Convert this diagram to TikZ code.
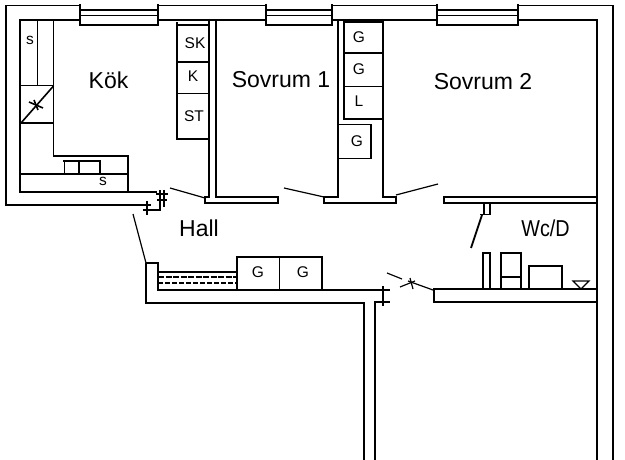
\documentclass[tikz,border=0pt]{standalone}
\usepackage{fontspec}
\setmainfont{Liberation Sans}
\tikzset{
  wall/.style={line width=1.9pt},
  fitting/.style={line width=1.6pt},
  thin wall/.style={line width=1.2pt},
  door/.style={line width=1.2pt},
  room/.style={inner sep=0pt, font=\fontsize{23}{26}\selectfont},
  unit/.style={inner sep=0pt, font=\fontsize{15.5}{18}\selectfont},
}
\begin{document}
\begin{tikzpicture}[x=1pt,y=-1pt]
\useasboundingbox (0,0) rectangle (625,460);
\draw[wall] (80,5.5) -- (6,5.5) -- (6,205) -- (147,205);
\draw[wall] (80,20) -- (20,20) -- (20,192) -- (157,192);
\draw[wall] (158,5.5) -- (266,5.5);
\draw[wall] (158,20) -- (266,20);
\draw[wall] (332,5.5) -- (437,5.5);
\draw[wall] (332,20) -- (437,20);
\draw[wall] (518,5.5) -- (613,5.5) -- (613,460);
\draw[wall] (518,20) -- (597,20) -- (597,460);
\foreach \xa/\xb in {80/158, 266/332, 437/518} {
  \draw[thin wall] (\xa,10) -- (\xb,10);
  \draw[thin wall] (\xa,15.5) -- (\xb,15.5);
  \draw[wall] (\xa,4) -- (\xa,25) -- (\xb,25) -- (\xb,4);
}
\draw[fitting] (147,201) -- (147,215);
\draw[fitting] (143,210) -- (160,210) -- (160,190);
\draw[fitting] (164,190) -- (164,207);
\draw[fitting] (156,194) -- (168,194);
\draw[fitting] (157,200) -- (167,200);
\draw[fitting] (144,205) -- (151,205);
\draw[wall] (209,20) -- (209,197) -- (205,197) -- (205,203) -- (278,203) -- (278,197) -- (216,197) -- (216,20);
\draw[wall] (338,20) -- (338,197) -- (324,197) -- (324,203) -- (396,203) -- (396,197) -- (383,197) -- (383,20);
\draw[wall] (597,197) -- (444,197) -- (444,203) -- (597,203);
\draw[fitting] (53.5,20) -- (53.5,156) -- (128,156) -- (128,192);
\draw[fitting] (37.5,20) -- (37.5,86);
\draw[fitting] (20,85.5) -- (53.5,85.5);
\draw[fitting] (53.5,86) -- (21,123);
\draw[fitting] (20,123) -- (53.5,123);
\draw[fitting] (29,102) -- (43,108);
\draw[fitting] (34,100) -- (38,110);
\draw[fitting] (20,174) -- (128,174);
\draw[fitting] (63,161) -- (101,161);
\draw[fitting] (64.5,161) -- (64.5,175);
\draw[fitting] (79,160) -- (79,175);
\draw[fitting] (100,160) -- (100,175);
\draw[fitting] (177,22) -- (177,139) -- (209,139);
\draw[fitting] (177,25) -- (209,25);
\draw[fitting] (177,62) -- (209,62);
\draw[fitting] (177,93.5) -- (209,93.5);
\draw[fitting] (344,20) -- (344,119) -- (383,119);
\draw[fitting] (344,22) -- (383,22);
\draw[fitting] (344,53) -- (383,53);
\draw[fitting] (344,86.5) -- (383,86.5);
\draw[fitting] (338,124.5) -- (371,124.5) -- (371,158.5) -- (338,158.5);
\draw[door] (170,188) -- (205,198);
\draw[door] (284,188) -- (324,197);
\draw[door] (396,195) -- (438,184);
\draw[door] (133,214) -- (146,263);
\draw[door,line width=1.8pt] (482,215) -- (471,248);
\draw[wall] (146,263) -- (146,303) -- (364,303) -- (364,460);
\draw[wall] (146,263) -- (158,263) -- (158,290) -- (390,290);
\draw[wall] (375,460) -- (375,302) -- (390,302);
\draw[fitting] (383,286) -- (383,306);
\draw[fitting] (158,272) -- (237,272);
\draw[thin wall,dashed,dash pattern=on 6pt off 1.5pt] (158,277) -- (237,277);
\draw[thin wall,dashed,dash pattern=on 5pt off 2pt] (158,283) -- (237,283);
\draw[fitting] (237,290) -- (237,257) -- (322,257) -- (322,290);
\draw[fitting] (279.5,257) -- (279.5,290);
\draw[fitting] (484,203) -- (484,215);
\draw[fitting] (490,203) -- (490,215);
\draw[fitting] (480,214.5) -- (491,214.5);
\draw[wall] (597,289) -- (434,289) -- (434,302) -- (597,302);
\draw[door] (387,273) -- (402,279);
\draw[door] (408,281) -- (433,290);
\draw[door] (400,287) -- (415,281);
\draw[door] (410,278) -- (413,289);
\draw[fitting] (483,289) -- (483,253) -- (490,253) -- (490,289);
\draw[fitting] (501,289) -- (501,253) -- (521,253) -- (521,289);
\draw[fitting] (501,277) -- (521,277);
\draw[fitting] (529,289) -- (529,266) -- (562,266) -- (562,289);
\draw[door] (573,281) -- (589,281) -- (581,289) -- cycle;
\node[room] (kok) at (108.5,80) {Kök};
\node[room] (sovrum1) at (281,80) {Sovrum 1};
\node[room] (sovrum2) at (483,82) {Sovrum 2};
\node[room] (hall) at (199,228) {Hall};
\node[room,xscale=.86] (wcd) at (545.5,228) {Wc/D};
\node[unit] (s1) at (30,40) {s};
\node[unit] (s2) at (103,181) {s};
\node[unit] (sk) at (195,43) {SK};
\node[unit] (k) at (193,76) {K};
\node[unit] (st) at (194,116) {ST};
\node[unit] (g1) at (359,37) {G};
\node[unit] (g2) at (359,69) {G};
\node[unit] (l) at (359,101) {L};
\node[unit] (g3) at (357,141) {G};
\node[unit] (g4) at (258,272) {G};
\node[unit] (g5) at (303,272) {G};
\end{tikzpicture}
\end{document}
